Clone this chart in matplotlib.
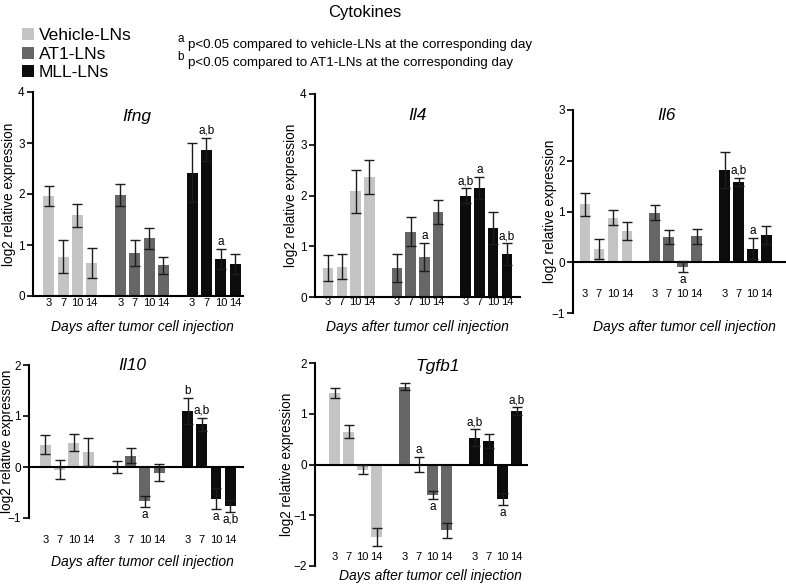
import matplotlib
matplotlib.use('Agg')
import matplotlib.pyplot as plt
from matplotlib.patches import Patch

plt.rcParams['font.family'] = ['Liberation Sans', 'DejaVu Sans']

W, H = 786, 584

days = ['3', '7', '10', '14']
groups = ['Vehicle-LNs', 'AT1-LNs', 'MLL-LNs']
colors = ['#c4c4c4', '#666666', '#0c0c0c']

# rows: vehicle, AT1, MLL ; columns: day 3, 7, 10, 14
ifng_mean = [[1.96, 0.77, 1.58, 0.65], [1.98, 0.84, 1.13, 0.60], [2.42, 2.87, 0.73, 0.63]]
ifng_sem = [[0.20, 0.32, 0.22, 0.29], [0.22, 0.25, 0.21, 0.17], [0.58, 0.23, 0.20, 0.19]]
ifng_sig = [['', '', '', ''], ['', '', '', ''], ['', 'a,b', 'a', '']]

il4_mean = [[0.57, 0.60, 2.08, 2.36], [0.57, 1.29, 0.79, 1.67], [2.00, 2.15, 1.36, 0.85]]
il4_sem = [[0.25, 0.25, 0.43, 0.34], [0.27, 0.28, 0.28, 0.24], [0.14, 0.22, 0.31, 0.21]]
il4_sig = [['', '', '', ''], ['', '', 'a', ''], ['a,b', 'a', '', 'a,b']]

il6_mean = [[1.14, 0.26, 0.88, 0.62], [0.98, 0.50, -0.09, 0.51], [1.82, 1.58, 0.27, 0.54]]
il6_sem = [[0.23, 0.20, 0.15, 0.18], [0.15, 0.14, 0.11, 0.15], [0.35, 0.08, 0.20, 0.18]]
il6_sig = [['', '', '', ''], ['', '', 'a', ''], ['', 'a,b', 'a', '']]

il10_mean = [[0.44, -0.05, 0.48, 0.29], [0.0, 0.22, -0.67, -0.11], [1.10, 0.84, -0.62, -0.76]]
il10_sem = [[0.18, 0.18, 0.17, 0.28], [0.11, 0.15, 0.11, 0.17], [0.25, 0.13, 0.21, 0.12]]
il10_sig = [['', '', '', ''], ['', '', 'a', ''], ['b', 'a,b', 'a', 'a,b']]

tgfb1_mean = [[1.41, 0.65, -0.10, -1.43], [1.53, 0.0, -0.60, -1.30], [0.53, 0.47, -0.68, 1.05]]
tgfb1_sem = [[0.10, 0.12, 0.09, 0.18], [0.07, 0.14, 0.07, 0.15], [0.16, 0.14, 0.12, 0.08]]
tgfb1_sig = [['', '', '', ''], ['', 'a', 'a', ''], ['a,b', '', 'a', 'a,b']]


def px(x, y):
    return x / W, 1 - y / H


def panel(fig, name, mean, sem, sig, box, ylim, xlim, day_y, title_xy, ylab_x, xlab_xy):
    l, t, r, b = box
    ax = fig.add_axes([l / W, 1 - b / H, (r - l) / W, (b - t) / H])
    for g in range(3):
        xs = [g * 5 + i for i in range(4)]
        ax.bar(xs, mean[g], width=0.77, color=colors[g], edgecolor='none', zorder=2)
        ax.errorbar(xs, mean[g], yerr=sem[g], fmt='none', ecolor='#1c1c1c',
                    elinewidth=1, capsize=3.6, capthick=1, zorder=3)
        for i in range(4):
            ax.text(xs[i], day_y, days[i], ha='center', va='center', fontsize=8, clip_on=False)
            if sig[g][i]:
                m, s = mean[g][i], sem[g][i]
                if m >= 0:
                    ax.text(xs[i], m + s + 0.02, sig[g][i], ha='center', va='bottom', fontsize=8.5)
                else:
                    ax.text(xs[i], m - s - 0.04, sig[g][i], ha='center', va='top', fontsize=8.5)
    ax.set_ylim(*ylim)
    ax.set_xlim(*xlim)
    ax.set_yticks(range(ylim[0], ylim[1] + 1))
    ax.set_xticks([])
    for s in ['top', 'right']:
        ax.spines[s].set_visible(False)
    ax.spines['bottom'].set_position(('data', 0))
    ax.spines['left'].set_linewidth(1.5)
    ax.spines['bottom'].set_linewidth(1.5)
    ax.tick_params(axis='y', length=4, width=1.2, labelsize=8.5, pad=2)
    ax.patch.set_alpha(0)
    fig.text(*px(*title_xy), name, style='italic', fontsize=12.5, ha='center', va='center')
    fig.text(*px(ylab_x, (t + b) / 2), 'log2 relative expression', rotation=90,
             ha='center', va='center', fontsize=9.8)
    fig.text(*px(*xlab_xy), 'Days after tumor cell injection', style='italic',
             fontsize=10, ha='center', va='center')
    return ax


fig = plt.figure(figsize=(W / 100, H / 100), dpi=100)

panel(fig, 'Ifng', ifng_mean, ifng_sem, ifng_sig, (33, 92, 243, 296), (0, 4), (-1.1, 13.55),
      -0.14, (137, 117), 9, (142, 327))
panel(fig, 'Il4', il4_mean, il4_sem, il4_sig, (315, 94, 520, 297), (0, 4), (-0.95, 13.95),
      -0.10, (417, 115), 291, (417, 327))
panel(fig, 'Il6', il6_mean, il6_sem, il6_sig, (573, 110, 786, 313), (-1, 3), (-0.86, 14.4),
      -0.63, (667, 115), 550, (684, 327))
panel(fig, 'Il10', il10_mean, il10_sem, il10_sig, (29, 365, 243, 518), (-1, 2), (-1.16, 13.9),
      -1.43, (132, 366), 7, (142, 562))
panel(fig, 'Tgfb1', tgfb1_mean, tgfb1_sem, tgfb1_sig, (315, 363, 527, 566), (-2, 2), (-1.4, 13.75),
      -1.82, (438, 366), 287, (430, 576))

fig.text(*px(365, 12), 'Cytokines', ha='center', va='center', fontsize=12)

handles = [Patch(facecolor=c, edgecolor='none') for c in colors]
fig.legend(handles, groups, loc='upper left', bbox_to_anchor=px(22, 28), frameon=False,
           fontsize=12.5, handlelength=0.7, handleheight=0.7, handletextpad=0.25,
           labelspacing=0.2, borderpad=0, borderaxespad=0)

fig.text(*px(181, 39), 'a', fontsize=8.5, ha='center', va='center')
fig.text(*px(188, 45), 'p<0.05 compared to vehicle-LNs at the corresponding day',
         fontsize=9.6, ha='left', va='center')
fig.text(*px(181, 57), 'b', fontsize=8.5, ha='center', va='center')
fig.text(*px(188, 63), 'p<0.05 compared to AT1-LNs at the corresponding day',
         fontsize=9.6, ha='left', va='center')

fig.savefig('out.png', dpi=100)
